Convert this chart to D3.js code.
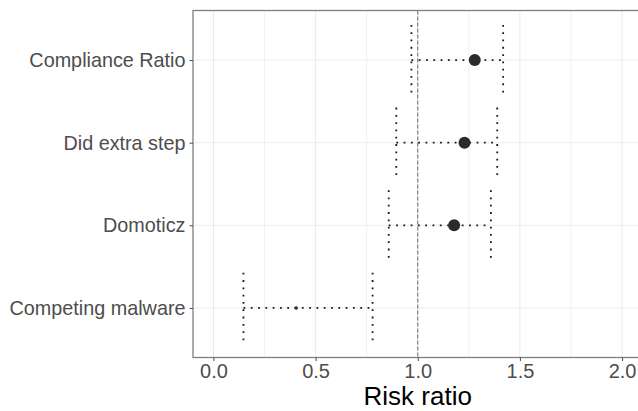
<!DOCTYPE html>
<html>
<head>
<meta charset="utf-8">
<script src="https://cdn.jsdelivr.net/npm/d3@7"></script>
<style>
  body { margin: 0; background: #fff; }
  text { font-family: Arial, "Liberation Sans", sans-serif; }
</style>
</head>
<body>
<script>
// chart size
var width = 638;
var height = 411;

// data
var labels = ["Compliance Ratio", "Did extra step", "Domoticz", "Competing malware"];
var estimate = [1.279, 1.229, 1.178, 0.405];
var lower = [0.969, 0.895, 0.858, 0.147];
var upper = [1.418, 1.389, 1.358, 0.779];
var pointSize = [6, 6, 6, 1.8];
var xTicks = [0, 0.5, 1.0, 1.5, 2.0];
var xMinor = [0.25, 0.75, 1.25, 1.75];

var margin = {left: 193, top: 10.5, right: -4.5, bottom: 53.5};

var svg = d3.select("body")
    .append("svg")
    .attr("width", width)
    .attr("height", height);

var x = d3.scaleLinear()
    .domain([-0.1, 2.1])
    .range([margin.left, width - margin.right]);

// discrete axis with ggplot style 0.6 expansion
var y = d3.scaleLinear()
    .domain([0.4, 4.6])
    .range([margin.top, height - margin.bottom]);
function yPos(i) { return y(i + 1); }

var g = svg.append("g");

// panel grid
g.selectAll(".minor")
    .data(xMinor)
    .enter().append("line")
    .attr("x1", function(d) { return x(d); })
    .attr("x2", function(d) { return x(d); })
    .attr("y1", y(0.4))
    .attr("y2", y(4.6))
    .attr("stroke", "#f0f0f0")
    .attr("stroke-width", 1);

g.selectAll(".major")
    .data(xTicks)
    .enter().append("line")
    .attr("x1", function(d) { return x(d); })
    .attr("x2", function(d) { return x(d); })
    .attr("y1", y(0.4))
    .attr("y2", y(4.6))
    .attr("stroke", "#ebebeb")
    .attr("stroke-width", 1.1);

g.selectAll(".hgrid")
    .data(labels)
    .enter().append("line")
    .attr("x1", x(-0.1))
    .attr("x2", x(2.1))
    .attr("y1", function(d, i) { return yPos(i); })
    .attr("y2", function(d, i) { return yPos(i); })
    .attr("stroke", "#ebebeb")
    .attr("stroke-width", 1.1);

// reference line at 1
g.append("line")
    .attr("x1", x(1))
    .attr("x2", x(1))
    .attr("y1", y(0.4))
    .attr("y2", y(4.6))
    .attr("stroke", "#6b6b6b")
    .attr("stroke-width", 1)
    .attr("stroke-dasharray", "4,2");

// error bars (dotted)
var capHalf = 0.425;
var dots = "1.8,5.5";
labels.forEach(function(lab, i) {
  var cy = yPos(i);
  g.append("line")
      .attr("x1", x(lower[i])).attr("x2", x(upper[i]))
      .attr("y1", cy).attr("y2", cy)
      .attr("stroke", "#1a1a1a").attr("stroke-width", 1.8)
      .attr("stroke-dasharray", dots);
  [lower[i], upper[i]].forEach(function(v) {
    g.append("line")
        .attr("x1", x(v)).attr("x2", x(v))
        .attr("y1", y(i + 1 - capHalf)).attr("y2", y(i + 1 + capHalf))
        .attr("stroke", "#1a1a1a").attr("stroke-width", 1.8)
        .attr("stroke-dasharray", dots);
  });
});

g.selectAll(".pt")
    .data(estimate)
    .enter().append("circle")
    .attr("cx", function(d) { return x(d); })
    .attr("cy", function(d, i) { return yPos(i); })
    .attr("r", function(d, i) { return pointSize[i]; })
    .attr("fill", "#2b2b2b");

// panel border
g.append("rect")
    .attr("x", x(-0.1))
    .attr("y", y(0.4))
    .attr("width", x(2.1) - x(-0.1))
    .attr("height", y(4.6) - y(0.4))
    .attr("fill", "none")
    .attr("stroke", "#7f7f7f")
    .attr("stroke-width", 1.3);

// x axis
var xAxis = g.append("g")
    .attr("transform", "translate(0," + y(4.6) + ")")
    .call(d3.axisBottom(x).tickValues(xTicks).tickSize(3.5).tickPadding(3)
      .tickFormat(d3.format(".1f")));
xAxis.select(".domain").remove();
xAxis.selectAll("line").attr("stroke", "#4d4d4d").attr("stroke-width", 1);
xAxis.selectAll("text")
    .attr("fill", "#4d4d4d")
    .style("font-size", "20px");

// y axis
var yAxis = g.append("g")
    .attr("transform", "translate(" + x(-0.1) + ",0)")
    .call(d3.axisLeft(y).tickValues([1, 2, 3, 4]).tickSize(3.5).tickPadding(4)
      .tickFormat(function(d) { return labels[d - 1]; }));
yAxis.select(".domain").remove();
yAxis.selectAll("line").attr("stroke", "#4d4d4d").attr("stroke-width", 1);
yAxis.selectAll("text")
    .attr("fill", "#4d4d4d")
    .style("font-size", "19.8px");

// title
svg.append("text")
    .attr("x", x(1))
    .attr("y", 405)
    .attr("text-anchor", "middle")
    .attr("fill", "#000")
    .style("font-size", "26px")
    .text("Risk ratio");
</script>
</body>
</html>
